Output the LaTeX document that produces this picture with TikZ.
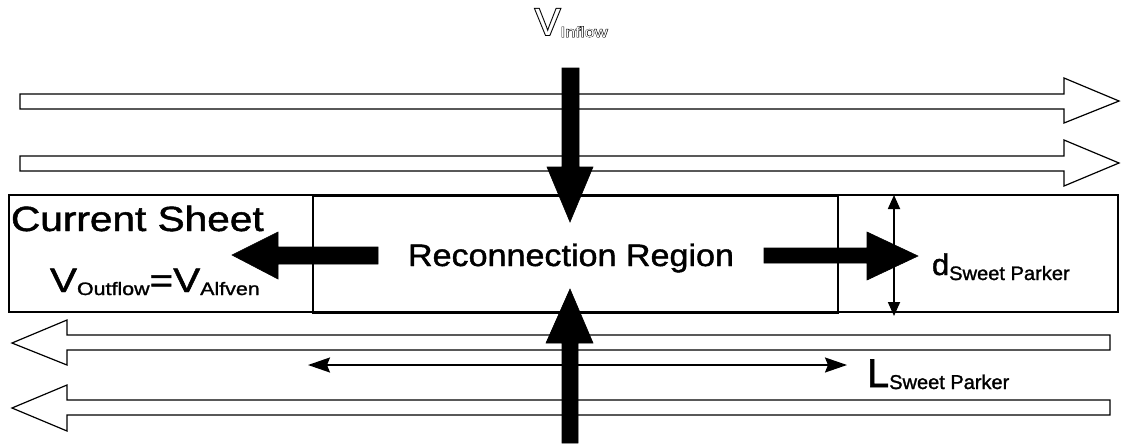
\documentclass[tikz,border=0pt]{standalone}
\usepackage{fontspec}
\setmainfont{Liberation Sans}
\newfontfamily\heavyfont{Liberation Sans}[FakeBold=1.3]
\newfontfamily\rimfont{Liberation Sans}[FakeBold=5]
\usepackage{graphicx}
\usetikzlibrary{arrows.meta}

% horizontally stretched label: #1 stretch, #2 size, #3 text
\newcommand{\wide}[3]{\scalebox{#1}[1]{\fontsize{#2}{#2}\selectfont #3}}
% lowered subscript: #1 drop, #2 size, #3 text
\newcommand{\lowsub}[3]{\raisebox{-#1}{\fontsize{#2}{#2}\selectfont #3}}
% inflow velocity symbol, set in the current font
\newcommand{\vinflow}{\fontsize{38}{38}\selectfont V\scalebox{1.25}[1]{\lowsub{2pt}{14.5}{Inflow}}}

\begin{document}
\begin{tikzpicture}[x=1pt,y=-1pt,
  openarrow/.style={draw=black, line width=1.2pt, fill=white, line join=miter},
  fatarrow/.style={fill=black, draw=black, line width=0.6pt, line join=miter},
  sheet/.style={draw=black, line width=1.8pt},
  txt/.style={anchor=base west, inner sep=0pt, outer sep=0pt, font=\heavyfont},
  dimline/.style={line width=1.8pt, {Triangle[length=14pt,width=12pt]}-{Triangle[length=14pt,width=12pt]}},
  spanline/.style={line width=1.8pt, {Stealth[length=22pt,width=15pt,inset=3pt]}-{Stealth[length=22pt,width=15pt,inset=3pt]}}
]
\useasboundingbox (0,0) rectangle (1125,445);

% field lines above the sheet, pointing right
\draw[openarrow] (20,94) -- (1064,94) -- (1064,78) -- (1119,101) -- (1064,123) -- (1064,109) -- (20,109) -- cycle;
\draw[openarrow] (20,156) -- (1064,156) -- (1064,140) -- (1119,163) -- (1064,186) -- (1064,171) -- (20,171) -- cycle;

% field lines below the sheet, pointing left
\draw[openarrow] (1110,335) -- (67,335) -- (67,320) -- (12,343) -- (67,365) -- (67,350) -- (1110,350) -- cycle;
\draw[openarrow] (1110,400) -- (67,400) -- (67,385) -- (12,408) -- (67,431) -- (67,415) -- (1110,415) -- cycle;

% current sheet and reconnection region
\draw[sheet, fill=white] (9,195) rectangle (1118,312);
\node[sheet, inner sep=0pt, minimum width=525pt, minimum height=117pt, anchor=north west] (rr) at (312,195) {};

% inflow arrows
\draw[fatarrow] (562,68) -- (579,68) -- (579,167) -- (593,167) -- (570,222) -- (547,167) -- (562,167) -- cycle;
\draw[fatarrow] (562,443) -- (578,443) -- (578,343) -- (593,343) -- (570,289) -- (546,343) -- (562,343) -- cycle;

% outflow arrows
\draw[fatarrow] (378,247) -- (278,247) -- (278,232) -- (232,255) -- (278,279) -- (278,264) -- (378,264) -- cycle;
\draw[fatarrow] (764,248) -- (867,248) -- (867,232) -- (918,256) -- (867,280) -- (867,263) -- (764,263) -- cycle;

% sheet thickness and length
\coordinate (dtop) at (894,195);
\coordinate (dbot) at (894,316);
\draw[dimline] (dtop) -- (dbot);
\coordinate (lleft) at (308,365);
\coordinate (lright) at (847,365);
\draw[spanline] (lleft) -- (lright);

% outlined inflow label: heavy black letters with white letters laid on top
\node[txt, font=\rimfont, text=black] (inflow) at (535,35) {\vinflow};
\node[txt, font=\normalfont, text=white] (inflowcore) at (inflow.base west) {\vinflow};

% labels
\node[txt] (cs) at (11,231) {\wide{1.16}{35}{Current Sheet}};
\node[txt] (vout) at (50,292) {\wide{1.19}{34}{V\lowsub{3pt}{18}{Outflow}=V\lowsub{3pt}{18}{Alfven}}};
\node[txt] (rrlabel) at (408,266) {\wide{1.10}{31}{Reconnection Region}};
\node[txt] (dsp) at (932,275) {\wide{1.03}{30}{d\lowsub{5pt}{19.5}{Sweet Parker}}};
\node[txt] (lsp) at (867,387) {\wide{1.0}{40}{L\lowsub{2pt}{20}{Sweet Parker}}};
\end{tikzpicture}
\end{document}
